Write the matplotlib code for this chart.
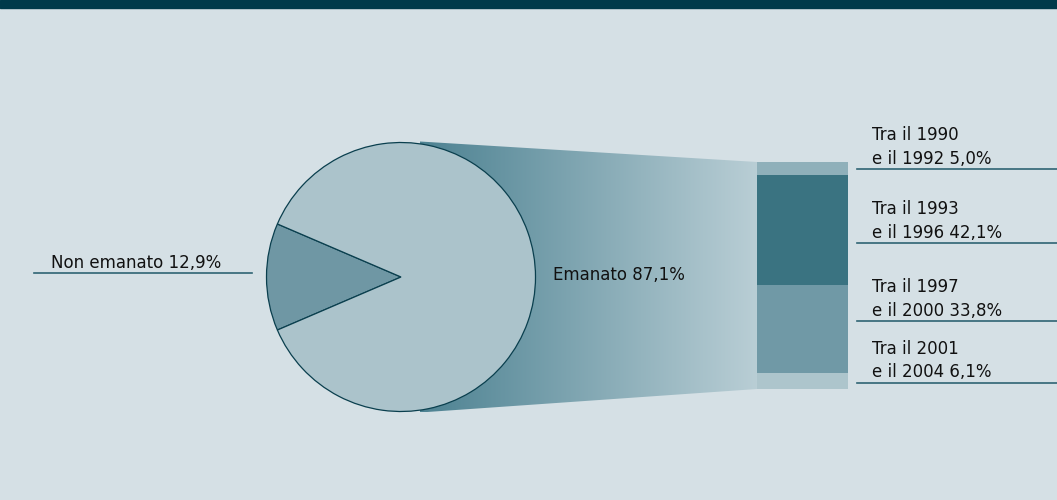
import numpy as np
import matplotlib.pyplot as plt
from matplotlib.patches import Polygon, Rectangle
from matplotlib.colors import to_rgb

# 数据
pie_labels = ["Non emanato 12,9%", "Emanato 87,1%"]
pie_values = [12.9, 87.1]

periodi = ["Tra il 1990\ne il 1992 5,0%",
           "Tra il 1993\ne il 1996 42,1%",
           "Tra il 1997\ne il 2000 33,8%",
           "Tra il 2001\ne il 2004 6,1%"]
periodi_values = [5.0, 42.1, 33.8, 6.1]

# 颜色
bg = "#d5e0e5"
band = "#003a4a"
edge = "#0a3f4e"
line_col = "#2f6473"
pie_colors = ["#6f97a4", "#abc3cb"]
bar_colors = ["#8fb0ba", "#3a7381", "#7099a6", "#adc5cc"]

plt.rcParams['font.family'] = ['DejaVu Sans']

W, H = 1057, 500
fig = plt.figure(figsize=(W / 100, H / 100), dpi=100)
fig.patch.set_facecolor(bg)
ax = fig.add_axes([0, 0, 1, 1])

# 顶部深色条
ax.add_patch(Rectangle((0, H - 8), W, 8, color=band, zorder=5))

# 饼图
cx, cy, r = 401, H - 277, 134.5
start = 180 - pie_values[0] * 3.6 / 2
wedges, _ = ax.pie(pie_values, colors=pie_colors, startangle=start,
                   center=(cx, cy), radius=r, frame=True,
                   wedgeprops=dict(edgecolor=edge, linewidth=0.9))
for w in wedges:
    w.set_zorder(3)

# 堆叠柱
bx, bw = 757, 91
scale = 227 / sum(periodi_values)
bar_bottom = H - 389
bottom = bar_bottom
for v, c in zip(periodi_values[::-1], bar_colors[::-1]):
    ax.bar(bx + bw / 2, v * scale, width=bw, bottom=bottom, color=c,
           linewidth=0, zorder=3)
    bottom += v * scale
bar_top = bottom

# 渐变连接区域
lx = cx + 19
poly = Polygon([(lx, cy + r + 1), (bx, bar_top), (bx, bar_bottom), (lx, cy - r - 1)],
               closed=True, facecolor="none", edgecolor="none")
ax.add_patch(poly)
c0, c1 = np.array(to_rgb("#4d8292")), np.array(to_rgb("#b9ced5"))
t = np.linspace(0, 1, 256)[None, :, None]
grad = c0 + (c1 - c0) * t
im = ax.imshow(np.repeat(grad, 2, axis=0), extent=(lx, bx, cy - r - 1, cy + r + 1),
               aspect="auto", zorder=2, interpolation="bilinear")
im.set_clip_path(poly)

ax.set_xlim(0, W)
ax.set_ylim(0, H)
ax.set_aspect("equal")
ax.axis("off")

# 标签
fs = 12
txt = "#111111"
ax.plot([34, 252], [H - 273.3, H - 273.3], color=line_col, lw=1.2, zorder=4)
ax.text(51, H - 267.5, pie_labels[0], fontsize=fs, va="baseline", ha="left", color=txt)
ax.text(553, cy + 2, pie_labels[1], fontsize=fs, va="center", ha="left", color=txt, zorder=4)

line_y = [169, 243.3, 321, 382.7]
for lab, ly in zip(periodi, line_y):
    ax.plot([857, W], [H - ly, H - ly], color=line_col, lw=1.2, zorder=4)
    l1, l2 = lab.split("\n")
    ax.text(872, H - ly + 5.5, l2, fontsize=fs, va="baseline", ha="left", color=txt)
    ax.text(872, H - ly + 29, l1, fontsize=fs, va="baseline", ha="left", color=txt)

fig.savefig("out.png", dpi=100, facecolor=bg)
